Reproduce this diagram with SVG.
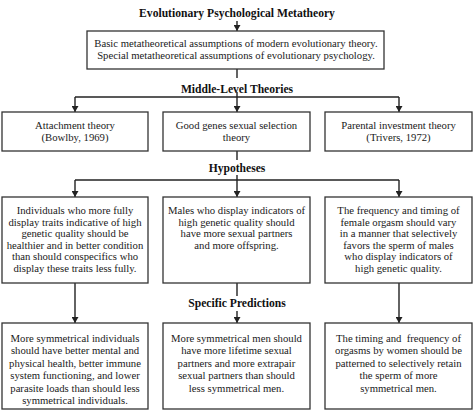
<svg xmlns="http://www.w3.org/2000/svg" width="474" height="412" viewBox="0 0 474 412" font-family="'Liberation Serif', 'DejaVu Serif', serif">
<defs>
<marker id="ah" markerWidth="6" markerHeight="7" refX="6" refY="3.5" orient="auto" markerUnits="userSpaceOnUse">
<path d="M0,0 L6,3.5 L0,7 Z" fill="#222"/>
</marker>
<style>
.box{fill:#fff;stroke:#333;stroke-width:1.3}
.t{font-family:'Liberation Serif','DejaVu Serif',serif;font-size:10.7px;fill:#1a1a1a;text-anchor:middle}
.h{font-family:'Liberation Serif','DejaVu Serif',serif;font-size:11.6px;font-weight:bold;fill:#111;text-anchor:middle}
.c{fill:none;stroke:#222;stroke-width:1.4}
.a{fill:none;stroke:#222;stroke-width:1.4;marker-end:url(#ah)}
</style>
</defs>
<rect width="474" height="412" fill="#fff"/>

<g id="labels">
<text class="h" x="237" y="17">Evolutionary Psychological Metatheory</text>
<text class="h" x="237" y="93">Middle-Level Theories</text>
<text class="h" x="237" y="172">Hypotheses</text>
<text class="h" x="237" y="307">Specific Predictions</text>
</g>

<g id="connectors">
<line class="a" x1="237" y1="21" x2="237" y2="31"/>
<line class="c" x1="237" y1="69" x2="237" y2="78"/>
<line class="c" x1="237" y1="92" x2="237" y2="97"/>
<path class="c" d="M75,97 H399"/>
<line class="a" x1="75" y1="97" x2="75" y2="112"/>
<line class="a" x1="237" y1="97" x2="237" y2="112"/>
<line class="a" x1="399" y1="97" x2="399" y2="112"/>
<line class="c" x1="237" y1="151" x2="237" y2="160"/>
<line class="c" x1="237" y1="175" x2="237" y2="180"/>
<path class="c" d="M75,180 H399"/>
<line class="a" x1="75" y1="180" x2="75" y2="197"/>
<line class="a" x1="237" y1="180" x2="237" y2="197"/>
<line class="a" x1="399" y1="180" x2="399" y2="197"/>
<line class="a" x1="75" y1="283" x2="75" y2="323"/>
<line class="c" x1="237" y1="283" x2="237" y2="296"/>
<line class="a" x1="237" y1="311" x2="237" y2="323"/>
<line class="a" x1="399" y1="283" x2="399" y2="323"/>
</g>

<g id="meta">
<rect class="box" x="87" y="31" width="297" height="38"/>
<text class="t" x="236" y="47">Basic metatheoretical assumptions of modern evolutionary theory.</text>
<text class="t" x="236" y="59">Special metatheoretical assumptions of evolutionary psychology.</text>
</g>

<g id="theory1">
<rect class="box" x="2" y="112" width="146" height="39"/>
<text class="t" x="75" y="129">Attachment theory</text>
<text class="t" x="75" y="141">(Bowlby, 1969)</text>
</g>
<g id="theory2">
<rect class="box" x="163" y="112" width="147" height="39"/>
<text class="t" x="236.5" y="129">Good genes sexual selection</text>
<text class="t" x="236.5" y="141">theory</text>
</g>
<g id="theory3">
<rect class="box" x="325" y="112" width="147" height="39"/>
<text class="t" x="398.5" y="129">Parental investment theory</text>
<text class="t" x="398.5" y="141">(Trivers, 1972)</text>
</g>

<g id="hyp1">
<rect class="box" x="2" y="197" width="146" height="86"/>
<text class="t" x="75" y="214">Individuals who more fully</text>
<text class="t" x="75" y="225.6">display traits indicative of high</text>
<text class="t" x="75" y="237.2">genetic quality should be</text>
<text class="t" x="75" y="248.8">healthier and in better condition</text>
<text class="t" x="75" y="260.4">than should conspecifics who</text>
<text class="t" x="75" y="272">display these traits less fully.</text>
</g>
<g id="hyp2">
<rect class="box" x="163" y="197" width="147" height="86"/>
<text class="t" x="236.5" y="214">Males who display indicators of</text>
<text class="t" x="236.5" y="225.6">high genetic quality should</text>
<text class="t" x="236.5" y="237.2">have more sexual partners</text>
<text class="t" x="236.5" y="248.8">and more offspring.</text>
</g>
<g id="hyp3">
<rect class="box" x="325" y="197" width="147" height="86"/>
<text class="t" x="398.5" y="214">The frequency and timing of</text>
<text class="t" x="398.5" y="225.6">female orgasm should vary</text>
<text class="t" x="398.5" y="237.2">in a manner that selectively</text>
<text class="t" x="398.5" y="248.8">favors the sperm of males</text>
<text class="t" x="398.5" y="260.4">who display indicators of</text>
<text class="t" x="398.5" y="272">high genetic quality.</text>
</g>

<g id="pred1">
<rect class="box" x="2" y="323" width="146" height="86"/>
<text class="t" x="75" y="341.5">More symmetrical individuals</text>
<text class="t" x="75" y="354">should have better mental and</text>
<text class="t" x="75" y="366.5">physical health, better immune</text>
<text class="t" x="75" y="379">system functioning, and lower</text>
<text class="t" x="75" y="391.5">parasite loads than should less</text>
<text class="t" x="75" y="404">symmetrical individuals.</text>
</g>
<g id="pred2">
<rect class="box" x="163" y="323" width="147" height="86"/>
<text class="t" x="236.5" y="341.5">More symmetrical men should</text>
<text class="t" x="236.5" y="354">have more lifetime sexual</text>
<text class="t" x="236.5" y="366.5">partners and more extrapair</text>
<text class="t" x="236.5" y="379">sexual partners than should</text>
<text class="t" x="236.5" y="391.5">less symmetrical men.</text>
</g>
<g id="pred3">
<rect class="box" x="325" y="323" width="147" height="86"/>
<text class="t" x="398.5" y="341.5" style="white-space:pre">The timing and  frequency of</text>
<text class="t" x="398.5" y="354">orgasms by women should be</text>
<text class="t" x="398.5" y="366.5">patterned to selectively retain</text>
<text class="t" x="398.5" y="379">the sperm of more</text>
<text class="t" x="398.5" y="391.5">symmetrical men.</text>
</g>
</svg>
